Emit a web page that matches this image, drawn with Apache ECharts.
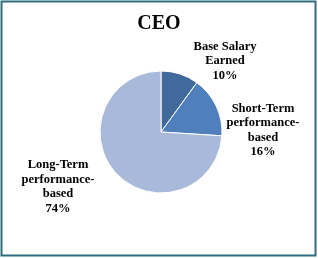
<!DOCTYPE html>
<html><head><meta charset="utf-8">
<script src="https://cdn.jsdelivr.net/npm/echarts@6/dist/echarts.min.js"></script>
<style>html,body{margin:0;padding:0;background:#fff}#c{width:318px;height:258px}</style>
</head><body><div id="c"></div>
<script>
var title = 'CEO';
var categories = ['Base Salary\nEarned', 'Short-Term\nperformance-\nbased', 'Long-Term\nperformance-\nbased'];
var values = [10, 16, 74];
var colors = ['#416a9c', '#4f80bd', '#a9b9d9'];
var labelPos = [[225, 61], [263, 130.5], [58, 187]];

var chart = echarts.init(document.getElementById('c'), null, {renderer: 'canvas'});
chart.setOption({
  animation: false,
  title: {text: title, left: 'center', top: 9, textStyle: {fontFamily: 'Liberation Serif', fontWeight: 'bold', fontSize: 20, color: '#000'}},
  graphic: [{type: 'rect', shape: {x: 1.5, y: 1.5, width: 314, height: 254}, style: {fill: 'none', stroke: '#2e6e7e', lineWidth: 2}}],
  series: [{
    type: 'pie',
    center: [161, 132],
    radius: 61,
    startAngle: 90,
    clockwise: true,
    itemStyle: {borderColor: '#fff', borderWidth: 1},
    data: categories.map(function (n, i) { return {name: n, value: values[i], itemStyle: {color: colors[i]}}; }),
    label: {
      show: true,
      formatter: '{b}\n{c}%',
      fontFamily: 'Liberation Serif', fontWeight: 'bold', fontSize: 12.5, color: '#000',
      lineHeight: 14.5, align: 'center', overflow: 'none', width: 120
    },
    labelLine: {show: false},
    labelLayout: function (p) {
      var pos = labelPos[p.dataIndex];
      return {x: pos[0], y: pos[1], align: 'center', verticalAlign: 'middle'};
    }
  }]
});
</script></body></html>
